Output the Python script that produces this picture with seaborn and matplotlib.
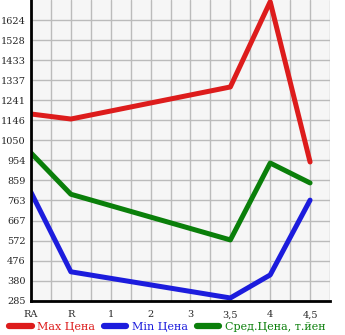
import numpy as np
import pandas as pd
import matplotlib
matplotlib.use("Agg")
import matplotlib.pyplot as plt
import seaborn as sns
from matplotlib.ticker import FixedLocator

categories = ["RA", "R", "1", "2", "3", "3,5", "4", "4,5"]
max_price = [1176, 1152, None, None, None, 1305, 1712, 947]
min_price = [802, 423, None, None, None, 298, 408, 765]
avg_price = [990, 793, None, None, None, 575, 942, 847]
y_ticks = [285, 380, 476, 572, 667, 763, 859, 954, 1050, 1146, 1241, 1337, 1433, 1528, 1624]
series_names = ["Max Цена", "Min Цена", "Сред.Цена, т.йен"]
colors = ["#dd1c1c", "#1c1cdd", "#0a7f0a"]

rows = []
for name, vals in zip(series_names, [max_price, min_price, avg_price]):
    for i, v in enumerate(vals):
        if v is not None:
            rows.append({"pos": i, "value": v, "series": name})
df = pd.DataFrame(rows)

sns.set_style("white")
plt.rcParams['font.family'] = ['DejaVu Serif']

fig = plt.figure(figsize=(3.45, 3.35), dpi=100)
ax = fig.add_axes([31/345, 1 - 300.7/335, (330-31)/345, 300.7/335])
ax.set_facecolor("#f6f6f6")

sns.lineplot(data=df, x="pos", y="value", hue="series", hue_order=series_names,
             palette=colors, linewidth=3.6, ax=ax, legend=False, sort=True)

ymin, ymax = 285, 1720
ax.set_xlim(0, 7.5)
ax.set_ylim(ymin, ymax)
step = (ymax - ymin) / 15
ytick_pos = [ymin + i * step for i in range(15)]
ax.set_yticks(ytick_pos)
ax.set_yticklabels([str(v) for v in y_ticks], fontsize=7)
ax.set_xticks(range(len(categories)))
ax.set_xticklabels(categories, fontsize=7)
ax.xaxis.set_minor_locator(FixedLocator([i + 0.5 for i in range(8)]))
ax.grid(True, which="both", color="#bbbbbb", linewidth=1)
ax.set_xlabel("")
ax.set_ylabel("")
for s in ["top", "right"]:
    ax.spines[s].set_visible(False)
for s in ["left", "bottom"]:
    ax.spines[s].set_color("black")
    ax.spines[s].set_linewidth(2)
ax.tick_params(axis="both", which="both", length=3, width=1, color="black", direction="out", pad=1)
ax.tick_params(axis="x", pad=4)

handles = [plt.Line2D([], [], color=c, linewidth=4.5, solid_capstyle="round") for c in colors]
leg = fig.legend(handles, series_names, loc="lower center", bbox_to_anchor=(0.485, -0.022), ncol=3,
                 frameon=False, handlelength=2.0, handletextpad=0.5, columnspacing=0.8,
                 prop={"family": "DejaVu Serif", "size": 8})
for t, c in zip(leg.get_texts(), colors):
    t.set_color(c)

fig.savefig("out.png", dpi=100)
